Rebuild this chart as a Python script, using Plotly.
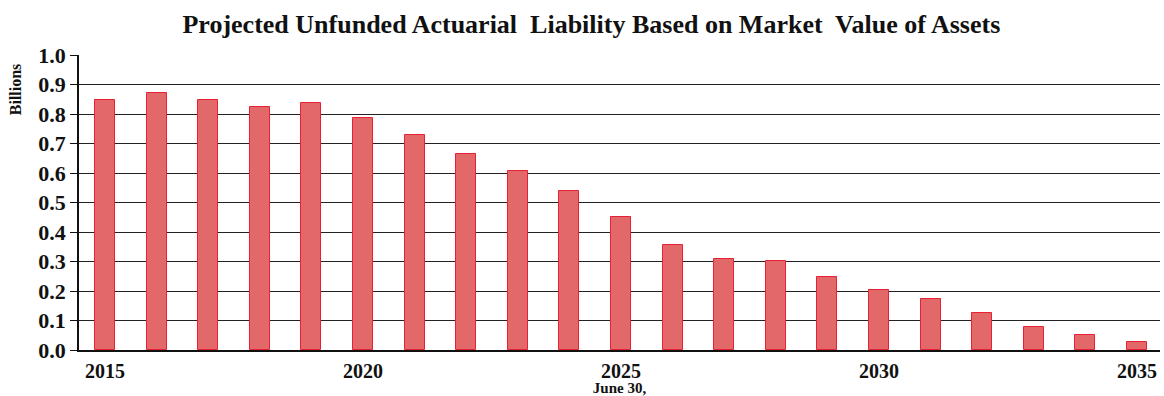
import plotly.graph_objects as go

years = list(range(2015, 2036))
values = [0.847, 0.871, 0.847, 0.824, 0.836, 0.786, 0.729, 0.664, 0.607, 0.539,
          0.452, 0.356, 0.310, 0.303, 0.247, 0.204, 0.173, 0.127, 0.078, 0.052, 0.027]
x_ticks = [2015, 2020, 2025, 2030, 2035]
y_ticks = [0.0, 0.1, 0.2, 0.3, 0.4, 0.5, 0.6, 0.7, 0.8, 0.9, 1.0]

FONT = "Liberation Serif"

fig = go.Figure()
fig.add_trace(go.Bar(
    x=years, y=values, width=0.39,
    marker=dict(color="rgb(226,104,106)", line=dict(color="rgb(232,32,52)", width=1)),
))

fig.update_layout(
    width=1164, height=396,
    margin=dict(l=79, r=4, t=55, b=46),
    paper_bgcolor="white", plot_bgcolor="white",
    showlegend=False,
    title=dict(text="<b>Projected Unfunded Actuarial  Liability Based on Market  Value of Assets</b>",
               x=0.474, xref="paper", xanchor="center", y=0.94, yanchor="middle",
               font=dict(family=FONT, size=26, color="#111")),
    xaxis=dict(range=[2014.496, 2035.446], tickvals=x_ticks,
               ticktext=[f"<b>{t}</b>" for t in x_ticks],
               tickfont=dict(family=FONT, size=20, color="#111"),
               showgrid=False, showline=True, linecolor="#111", linewidth=1.5,
               ticks="", ticklabelstandoff=2,
               title=dict(text="<b>June 30,</b>", font=dict(family=FONT, size=15, color="#111"),
                          standoff=0)),
    yaxis=dict(range=[0, 1.0], tickvals=y_ticks,
               ticktext=[f"<b>{t:.1f}</b>" for t in y_ticks],
               tickfont=dict(family=FONT, size=22, color="#111"),
               showgrid=True, gridcolor="#222", gridwidth=1.3,
               showline=True, linecolor="#111", linewidth=1.5,
               ticks="outside", ticklen=7, tickcolor="#111", tickwidth=1.3,
               zeroline=False),
    bargap=0,
)

fig.add_annotation(text="<b>Billions</b>", textangle=-90, xref="paper", yref="paper",
                   x=-0.058, y=0.885, xanchor="center", yanchor="middle", showarrow=False,
                   font=dict(family=FONT, size=16, color="#111"))

fig.write_html("out.html")
